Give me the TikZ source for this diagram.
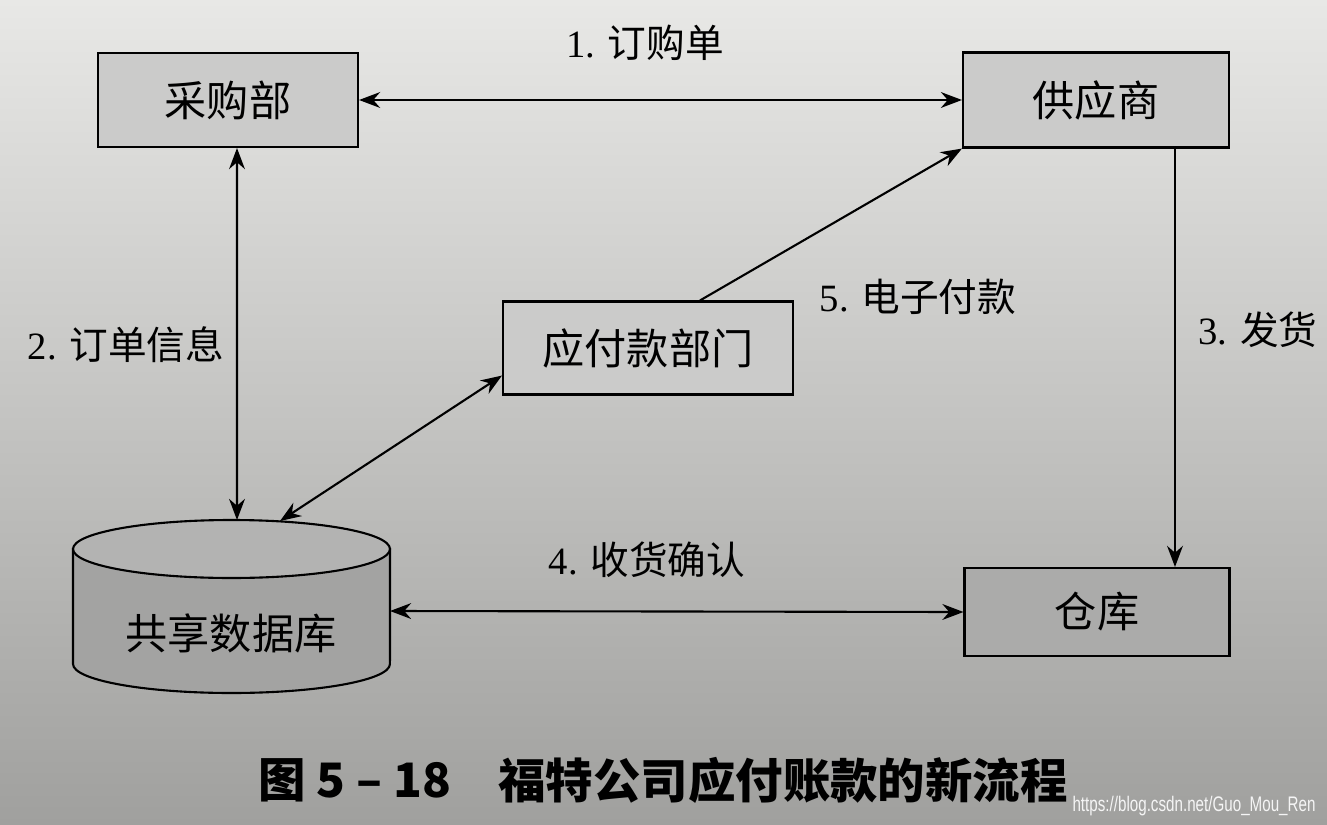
\documentclass[tikz,border=0pt]{standalone}
\usepackage{fontspec}
\usepackage{xcolor}
\usepackage{tikz}
\usetikzlibrary{arrows.meta}

\setmainfont{Liberation Serif}
\newfontfamily\cjk{Noto Sans CJK SC}
\newfontfamily\wmfont[FakeStretch=0.72]{Liberation Sans}

\definecolor{papertop}{HTML}{E8E8E6}
\definecolor{papermid}{HTML}{D6D6D4}
\definecolor{paperbot}{HTML}{A0A09E}
\definecolor{boxgray}{HTML}{CBCBCA}
\definecolor{boxdark}{HTML}{ABABAA}
\definecolor{dbbody}{HTML}{A3A3A2}
\definecolor{dbcap}{HTML}{B3B3B2}

\begin{document}
\begin{tikzpicture}[x=0.02cm,y=-0.02cm,
  box/.style={draw, line width=1.2pt, fill=boxgray, font=\cjk\fontsize{24}{28}\selectfont},
  lbl/.style={font=\fontsize{22}{26}\selectfont},
  arr/.style={line width=1.2pt, -{Stealth[length=12pt,width=9pt]}},
  darr/.style={line width=1.2pt, {Stealth[length=12pt,width=9pt]}-{Stealth[length=12pt,width=9pt]}}]

  % Paper background
  \shade[top color=papertop, middle color=papermid, bottom color=paperbot]
        (0,0) rectangle (1327,824);
  \useasboundingbox (0,0) rectangle (1327,824);

  % Boxes
  \node[box, minimum width=5.2cm,  minimum height=1.88cm] (cgb) at (228,100)  {采购部};
  \node[box, minimum width=5.32cm, minimum height=1.9cm]  (gys) at (1096,100) {供应商};
  \node[box, minimum width=5.8cm,  minimum height=1.86cm] (yfk) at (648,348)  {应付款部门};
  \node[box, fill=boxdark, minimum width=5.3cm, minimum height=1.76cm] (ck) at (1097,612) {仓库};

  % Shared database (cylinder)
  \draw[line width=1.2pt, fill=dbbody]
        (73,549) -- (73,664)
        arc[start angle=180, end angle=360, x radius=3.17cm, y radius=0.58cm]
        -- (390,549) -- cycle;
  \draw[line width=1.2pt, fill=dbcap] (231.5,549) ellipse[x radius=3.17cm, y radius=0.58cm];
  \node[font=\cjk\fontsize{24}{28}\selectfont] (db) at (231,633) {共享数据库};

  \coordinate (dbtop) at (237,520);
  \coordinate (dbtopr) at (280,521);
  \coordinate (dbright) at (390,611);

  % Flows
  \draw[darr] (cgb.east) -- (gys.west);
  \node[lbl] (l1) at (645,43) {1. {\cjk 订购单}};

  \draw[darr] ([xshift=0.18cm]cgb.south) -- (dbtop);
  \node[lbl] (l2) at (126,345) {2. {\cjk 订单信息}};

  \draw[arr] ([xshift=1.58cm]gys.south) -- ([xshift=1.58cm]gys.south |- ck.north);
  \node[lbl] (l3) at (1258,330) {3. {\cjk 发货}};

  \draw[darr] (dbright) -- (ck.west);
  \node[lbl] (l4) at (647,560) {4. {\cjk 收货确认}};

  \draw[arr] ([xshift=1.04cm]yfk.north) -- (gys.south west);
  \node[lbl] (l5) at (918,297) {5. {\cjk 电子付款}};

  \draw[darr] (dbtopr) -- ([yshift=0.4cm]yfk.south west);

  % Caption
  \node[font=\cjk\bfseries\fontsize{27}{30}\selectfont] (cap1) at (355,780) {图 5 – 18};
  \node[font=\cjk\bfseries\fontsize{27}{30}\selectfont] (cap2) at (783,780) {福特公司应付账款的新流程};
  \node[font=\wmfont\fontsize{12}{14}\selectfont, text=white!92!gray] (wm) at (1194,806)
        {https://blog.csdn.net/Guo\_Mou\_Ren};
\end{tikzpicture}
\end{document}
